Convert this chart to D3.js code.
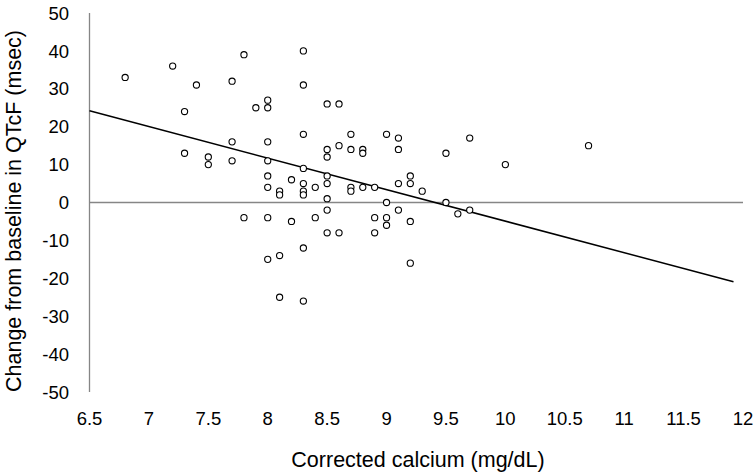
<!DOCTYPE html>
<html>
<head>
<meta charset="utf-8">
<script src="https://cdn.jsdelivr.net/npm/d3@7"></script>
<style>
  html, body { margin: 0; padding: 0; background: #fff; }
  svg { display: block; font-family: "Liberation Sans", Arial, sans-serif; }
</style>
</head>
<body>
<svg id="chart" width="756" height="473"></svg>
<script>
// Corrected calcium (mg/dL)
const calcium = [6.8, 7.2, 7.4, 7.3, 7.8, 7.7, 8.0, 8.0, 7.9, 8.3, 8.3, 7.3, 7.5, 7.5, 7.7, 7.7,
  8.0, 8.0, 8.0, 8.0, 8.1, 8.1, 8.2, 8.3, 8.3, 8.3, 8.3, 8.3, 8.5, 8.6, 8.7, 9.0, 9.1, 9.1,
  8.5, 8.5, 8.6, 8.7, 8.8, 8.8, 8.4, 8.5, 8.5, 8.5, 8.5, 8.7, 8.7, 8.8, 8.9, 9.0, 9.1, 9.1,
  9.2, 9.2, 9.3, 9.5, 9.7, 10.0, 10.7, 9.5, 9.7, 7.8, 8.0, 8.2, 8.4, 8.9, 9.0, 9.0, 9.2,
  8.5, 8.6, 8.9, 8.3, 8.0, 8.1, 9.2, 8.1, 8.3, 9.6];
// Change from baseline in QTcF (msec)
const qtcfChange = [33, 36, 31, 24, 39, 32, 27, 25, 25, 40, 31, 13, 12, 10, 16, 11,
  16, 11, 7, 4, 3, 2, 6, 18, 9, 5, 3, 2, 26, 26, 18, 18, 17, 14,
  14, 12, 15, 14, 14, 13, 4, 7, 5, 1, -2, 4, 3, 4, 4, 0, 5, -2,
  7, 5, 3, 13, 17, 10, 15, 0, -2, -4, -4, -5, -4, -4, -4, -6, -5,
  -8, -8, -8, -12, -15, -14, -16, -25, -26, -3];
// Linear trend line end points
const trendX = [6.5, 11.92];
const trendY = [24.2, -20.9];
// Tick labels
const xTicks = [6.5, 7, 7.5, 8, 8.5, 9, 9.5, 10, 10.5, 11, 11.5, 12];
const yTicks = [50, 40, 30, 20, 10, 0, -10, -20, -30, -40, -50];

const svg = d3.select("#chart");
const x = d3.scaleLinear().domain([6.5, 12]).range([89.5, 743]);
const y = d3.scaleLinear().domain([-50, 50]).range([392, 13]);

// y axis line
svg.append("line")
  .attr("x1", x(6.5)).attr("x2", x(6.5))
  .attr("y1", y(50)).attr("y2", y(-50))
  .attr("stroke", "#868686").attr("stroke-width", 1.3);

// zero line
svg.append("line")
  .attr("x1", x(6.5)).attr("x2", x(12))
  .attr("y1", y(0)).attr("y2", y(0))
  .attr("stroke", "#868686").attr("stroke-width", 1.3);

// y tick labels
svg.append("g").selectAll("text").data(yTicks).join("text")
  .attr("x", 69).attr("y", d => y(d))
  .attr("dy", "0.36em")
  .attr("text-anchor", "end")
  .attr("font-size", 18.5)
  .attr("fill", "#000")
  .text(d => d);

// x tick labels
svg.append("g").selectAll("text").data(xTicks).join("text")
  .attr("x", d => x(d)).attr("y", 425)
  .attr("text-anchor", "middle")
  .attr("font-size", 18.5)
  .attr("fill", "#000")
  .text(d => d);

// trend line
svg.append("line")
  .attr("x1", x(trendX[0])).attr("y1", y(trendY[0]))
  .attr("x2", x(trendX[1])).attr("y2", y(trendY[1]))
  .attr("stroke", "#000").attr("stroke-width", 1.5);

// points
svg.append("g").selectAll("circle").data(calcium.map((c, i) => [c, qtcfChange[i]])).join("circle")
  .attr("cx", d => x(d[0])).attr("cy", d => y(d[1]))
  .attr("r", 3.1)
  .attr("fill", "#fff")
  .attr("stroke", "#000")
  .attr("stroke-width", 1.1);

// axis titles
svg.append("text")
  .attr("x", 418).attr("y", 467)
  .attr("text-anchor", "middle")
  .attr("font-size", 21.5)
  .attr("fill", "#000")
  .text("Corrected calcium (mg/dL)");

svg.append("text")
  .attr("transform", "translate(21," + 211 + ") rotate(-90)")
  .attr("text-anchor", "middle")
  .attr("font-size", 21.5)
  .attr("fill", "#000")
  .text("Change from baseline in QTcF (msec)");
</script>
</body>
</html>
